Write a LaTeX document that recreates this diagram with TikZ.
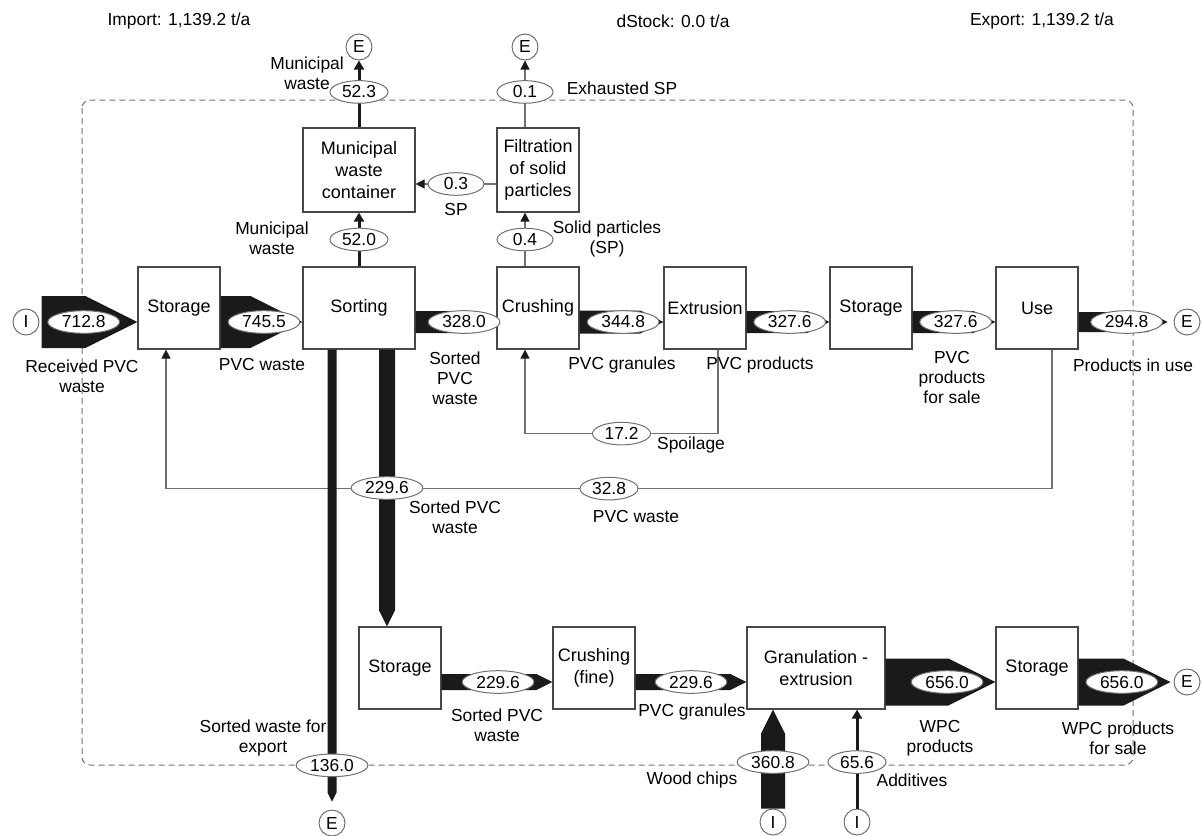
\documentclass[tikz,border=0pt]{standalone}
\usepackage{fontspec}
\setmainfont{Liberation Sans}
\usepackage{tikz}
\usetikzlibrary{arrows.meta,calc,shapes.geometric}
\definecolor{ink}{HTML}{1A1A1A}
\definecolor{rim}{HTML}{707070}

\newcommand\labfont{\fontsize{8.7}{10}\selectfont}
\newcommand\boxfont{\fontsize{9}{11}\selectfont}

% thick flow: #1 from, #2 to, #3 band width (px), #4 pos of value, #5 value
\newcommand\bandflow[5]{%
  \pgfmathsetlengthmacro\bandhalf{#3/4}%
  \pgfmathsetlengthmacro\bandhead{#3/2}%
  \coordinate (hb) at ($(#2)!\bandhead!(#1)$);
  \fill[ink] ($(#1)!\bandhalf!90:(#2)$) -- ($(hb)!\bandhalf!90:(#2)$) -- (#2)
    -- ($(hb)!\bandhalf!-90:(#2)$) -- ($(#1)!\bandhalf!-90:(#2)$) -- cycle;
  \path (#1) -- (#2) node[val,pos=#4] {#5};
}

\tikzset{
  proc/.style={draw=ink!80,line width=0.6pt,fill=white,minimum width=41pt,
               minimum height=41pt,inner sep=1pt,align=center,font=\boxfont},
  val/.style={ellipse,draw=rim,line width=0.5pt,fill=white,inner xsep=1.8pt,
              inner ysep=0.6pt,minimum width=28pt,minimum height=11.3pt,font=\labfont},
  term/.style={circle,draw=rim,line width=0.5pt,fill=white,minimum size=13pt,
               inner sep=0pt,font=\labfont},
  lab/.style={align=center,font=\labfont,inner sep=0pt},
  minorflow/.style={draw=rim,line width=0.6pt,
                    -{Triangle[length=4.5pt,width=4.5pt,color=ink]}},
  midflow/.style={draw=ink,line width=1.5pt,
                  -{Triangle[length=4.5pt,width=5pt,color=ink]}},
  sysbound/.style={draw=rim,line width=0.5pt,dash pattern=on 3pt off 2pt,
                   rounded corners=4pt}
}

\begin{document}
\begin{tikzpicture}[x=0.5pt,y=-0.5pt]
  \useasboundingbox (0,0) rectangle (1202,835);

  % system boundary
  \draw[sysbound] (82,100) rectangle (1133,765);

  \node[lab] (imp) at (179,21) {Import: 1,139.2 t/a};
  \node[lab] (dst) at (673,21) {dStock: 0.0 t/a};
  \node[lab] (exp) at (1042,21) {Export: 1,139.2 t/a};

  % processes
  \node[proc] (stA) at (179,308) {Storage};
  \node[proc,minimum width=56pt] (sort) at (359,308) {Sorting};
  \node[proc] (crush) at (538,308) {Crushing};
  \node[proc] (extr) at (705,308) {Extrusion};
  \node[proc] (stB) at (871,308) {Storage};
  \node[proc] (use) at (1037,308) {Use};
  \node[proc,minimum width=56pt,minimum height=42pt] (mwc) at (359,170)
    {Municipal\\waste\\container};
  \node[proc,minimum height=42pt] (filt) at (538,170)
    {Filtration\\of solid\\particles};
  \node[proc] (stC) at (400,668) {Storage};
  \node[proc] (crushF) at (594,668) {Crushing\\(fine)};
  \node[proc,minimum width=69pt] (gran) at (816,668) {Granulation -\\extrusion};
  \node[proc] (stD) at (1037,668) {Storage};

  % import / export
  \node[term] (iA) at (26,322) {I};
  \node[term] (eTop1) at (359,47) {E};
  \node[term] (eTop2) at (525,47) {E};
  \node[term] (eUse) at (1187,322) {E};
  \node[term] (eS) at (332,823) {E};
  \node[term] (iW) at (773,822) {I};
  \node[term] (iAdd) at (857,822) {I};
  \node[term] (eD) at (1187,682) {E};

  \coordinate (row1) at (0,322);
  \coordinate (row2) at (0,682);

  % small flows
  \draw[midflow] (sort.north) -- (mwc.south) node[val,midway] {52.0};
  \draw[midflow] (mwc.north) -- (eTop1.south) node[val,pos=0.53] {52.3};
  \coordinate (c1) at ($(crush.north)+(-13,0)$);
  \coordinate (c2) at (c1 |- filt.south);
  \coordinate (c3) at (c1 |- filt.north);
  \draw[minorflow] (c1) -- (c2) node[val,midway] {0.4};
  \draw[minorflow] (c3) -- (eTop2.south) node[val,pos=0.53] {0.1};
  \coordinate (c4) at ($(filt.west)+(0,14)$);
  \coordinate (c5) at (mwc.east |- c4);
  \draw[minorflow] (c4) -- (c5) node[val,midway] {0.3};
  \coordinate (c6) at ($(extr.south)+(13,0)$);
  \coordinate (c7) at ($(crush.south)+(-13,0)$);
  \draw[minorflow] (c6) -- ++(0,84) -| (c7) node[val,pos=0.25] {17.2};
  \coordinate (c8) at ($(use.south)+(15,0)$);
  \coordinate (c9) at ($(stA.south)+(-13,0)$);
  \draw[minorflow] (c8) -- ++(0,139) -| (c9) node[val,pos=0.25] {32.8};
  \coordinate (c11) at (iAdd |- gran.south);
  \draw[midflow] (iAdd.north) -- (c11) node[val,pos=0.47] {65.6};

  % top row flows
  \coordinate (a0) at ($(iA.east)+(2,0)$);
  \coordinate (a1) at (stA.west |- row1);
  \coordinate (a2) at (stA.east |- row1);
  \coordinate (a3) at (sort.west |- row1);
  \coordinate (a4) at (sort.east |- row1);
  \coordinate (a5) at (crush.west |- row1);
  \coordinate (a6) at (crush.east |- row1);
  \coordinate (a7) at (extr.west |- row1);
  \coordinate (a8) at (extr.east |- row1);
  \coordinate (a9) at (stB.west |- row1);
  \coordinate (a10) at (stB.east |- row1);
  \coordinate (a11) at (use.west |- row1);
  \coordinate (a12) at (use.east |- row1);
  \coordinate (a13) at ($(eUse.west)+(-6,0)$);
  \bandflow{a0}{a1}{52}{0.44}{712.8}
  \bandflow{a2}{a3}{52}{0.53}{745.5}
  \bandflow{a4}{a5}{22}{0.6}{328.0}
  \bandflow{a6}{a7}{23}{0.52}{344.8}
  \bandflow{a8}{a9}{22}{0.52}{327.6}
  \bandflow{a10}{a11}{22}{0.52}{327.6}
  \bandflow{a12}{a13}{20}{0.54}{294.8}

  % bottom row flows
  \coordinate (b1) at (stC.east |- row2);
  \coordinate (b2) at (crushF.west |- row2);
  \coordinate (b3) at (crushF.east |- row2);
  \coordinate (b4) at (gran.west |- row2);
  \coordinate (b5) at (gran.east |- row2);
  \coordinate (b6) at (stD.west |- row2);
  \coordinate (b7) at (stD.east |- row2);
  \coordinate (b8) at ($(eD.west)+(-3,0)$);
  \bandflow{b1}{b2}{16}{0.51}{229.6}
  \bandflow{b3}{b4}{16}{0.5}{229.6}
  \bandflow{b5}{b6}{47}{0.56}{656.0}
  \bandflow{b7}{b8}{47}{0.47}{656.0}

  % vertical flows
  \coordinate (v1) at ($(sort.south)+(28,0)$);
  \coordinate (v2) at (v1 |- stC.north);
  \coordinate (v3) at ($(sort.south)+(-27,0)$);
  \coordinate (v4) at ($(eS.north)+(0,-8)$);
  \coordinate (v5) at (iW.north);
  \coordinate (v6) at (iW |- gran.south);
  \bandflow{v1}{v2}{16}{0.5}{229.6}
  \bandflow{v3}{v4}{9}{0.92}{136.0}
  \bandflow{v5}{v6}{24}{0.47}{360.8}

  % flow names
  \node[lab] (nRec) at (82,376) {Received PVC\\waste};
  \node[lab] (nPw1) at (262,365) {PVC waste};
  \node[lab] (nSp1) at (455,378) {Sorted\\PVC\\waste};
  \node[lab] (nGr1) at (622,365) {PVC granules};
  \node[lab] (nPp) at (760,365) {PVC products};
  \node[lab] (nPs) at (952,378) {PVC\\products\\for sale};
  \node[lab] (nUse) at (1133,365) {Products in use};
  \node[lab] (nMw1) at (272,238) {Municipal\\waste};
  \node[lab] (nMw2) at (307,73) {Municipal\\waste};
  \node[lab] (nEx) at (622,88) {Exhausted SP};
  \node[lab] (nSP) at (456,210) {SP};
  \node[lab] (nSol) at (607,239) {Solid particles\\(SP)};
  \node[lab] (nSpo) at (691,445) {Spoilage};
  \node[lab] (nSp2) at (455,517) {Sorted PVC\\waste};
  \node[lab] (nPw2) at (636,517) {PVC waste};
  \node[lab] (nExp) at (263,738) {Sorted waste for\\export};
  \node[lab] (nSp3) at (497,725) {Sorted PVC\\waste};
  \node[lab] (nGr2) at (692,712) {PVC granules};
  \node[lab] (nWpc) at (940,738) {WPC\\products};
  \node[lab] (nWps) at (1118,738) {WPC products\\for sale};
  \node[lab] (nWood) at (692,780) {Wood chips};
  \node[lab] (nAdd) at (912,780) {Additives};
\end{tikzpicture}
\end{document}
